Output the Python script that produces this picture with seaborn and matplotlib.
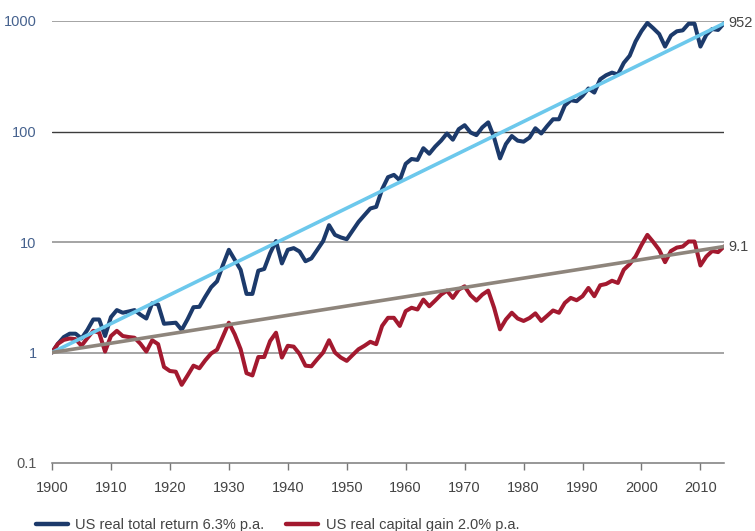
import numpy as np
import pandas as pd
import matplotlib.pyplot as plt
import seaborn as sns
from matplotlib.lines import Line2D

# data (index, 1900 = 1)
years = list(range(1900, 2015))

total_return = [
    1.0, 1.2, 1.38, 1.48, 1.48, 1.34, 1.6, 1.99, 1.99, 1.41,
    2.09, 2.42, 2.29, 2.35, 2.42, 2.2, 2.03, 2.79, 2.72, 1.82,
    1.84, 1.86, 1.6, 2.0, 2.57, 2.59, 3.2, 3.9, 4.41, 6.2,
    8.5, 6.9, 5.6, 3.39, 3.39, 5.5, 5.7, 7.9, 10.2, 6.4,
    8.5, 8.8, 8.2, 6.7, 7.1, 8.5, 10.2, 14.2, 11.6, 11.0,
    10.6, 12.7, 15.2, 17.5, 20.1, 20.8, 30.0, 38.6, 40.5, 36.2,
    51.0, 56.4, 55.3, 70.6, 62.9, 73.0, 82.6, 96.0, 84.3, 105.0,
    114.0, 98.0, 92.7, 109.0, 121.0, 88.0, 57.1, 77.0, 91.0, 82.6,
    80.9, 88.0, 107.0, 96.0, 112.0, 129.0, 129.0, 172.0, 192.0, 188.0,
    210.0, 245.0, 225.0, 297.0, 323.0, 341.0, 328.0, 418.0, 485.0, 653.0,
    810.0, 960.0, 860.0, 763.0, 587.0, 738.0, 807.0, 823.0, 945.0, 945.0,
    587.0, 750.0, 846.0, 830.0, 952.0,
]

capital_gain = [
    1.0, 1.2, 1.3, 1.34, 1.32, 1.15, 1.35, 1.57, 1.51, 1.02,
    1.41, 1.57, 1.41, 1.38, 1.36, 1.2, 1.02, 1.29, 1.19, 0.74,
    0.68, 0.67, 0.51, 0.62, 0.76, 0.72, 0.85, 0.98, 1.06, 1.4,
    1.86, 1.46, 1.07, 0.65, 0.62, 0.91, 0.91, 1.27, 1.51, 0.9,
    1.15, 1.13, 0.97, 0.76, 0.75, 0.87, 1.0, 1.29, 1.0, 0.9,
    0.84, 0.95, 1.07, 1.15, 1.25, 1.19, 1.74, 2.06, 2.06, 1.74,
    2.37, 2.54, 2.45, 3.01, 2.62, 2.95, 3.34, 3.63, 3.12, 3.71,
    3.97, 3.3, 2.95, 3.34, 3.63, 2.54, 1.62, 1.99, 2.29, 2.03,
    1.93, 2.05, 2.26, 1.93, 2.15, 2.4, 2.29, 2.81, 3.12, 2.97,
    3.23, 3.84, 3.23, 4.06, 4.17, 4.46, 4.26, 5.61, 6.31, 7.39,
    9.39, 11.6, 10.0, 8.5, 6.57, 8.29, 8.9, 9.1, 10.1, 10.1,
    6.13, 7.39, 8.29, 8.1, 9.1,
]

trend_years = [1900, 2014]
total_trend = [1.0, 952.0]
capital_trend = [1.0, 9.1]

series_names = ["US real total return 6.3% p.a.", "US real capital gain 2.0% p.a."]
end_labels = ["952", "9.1"]

navy = "#1c3a6b"
crimson = "#a3192f"
light_blue = "#6cc8ec"
taupe = "#8e857c"

df = pd.DataFrame({"year": years,
                   series_names[0]: total_return,
                   series_names[1]: capital_gain})
long_df = df.melt(id_vars="year", var_name="series", value_name="index")

sns.set_style("white")
plt.rcParams['font.family'] = ['Liberation Sans', 'DejaVu Sans']

fig = plt.figure(figsize=(7.55, 5.31), dpi=100)
ax = fig.add_axes([52 / 755, 1 - 463 / 531, (724 - 52) / 755, (463 - 21) / 531])

sns.lineplot(data=long_df, x="year", y="index", hue="series",
             palette=[navy, crimson], linewidth=2.9, ax=ax, legend=False,
             zorder=3)
sns.lineplot(x=trend_years, y=total_trend, color=light_blue, linewidth=2.6,
             ax=ax, zorder=4)
sns.lineplot(x=trend_years, y=capital_trend, color=taupe, linewidth=2.6,
             ax=ax, zorder=4)

ax.set_yscale("log")
ax.set_ylim(0.1, 1000)
ax.set_xlim(1900, 2014)

# horizontal gridlines (the 100 line is darker in the original)
for v in [1, 10, 1000]:
    ax.axhline(v, color="#8c8c8c", linewidth=1.1, zorder=1)
ax.axhline(100, color="#3c3c3c", linewidth=1.0, zorder=1)

ax.set_yticks([0.1, 1, 10, 100, 1000])
ax.set_yticklabels(["0.1", "1", "10", "100", "1000"])
ax.minorticks_off()
ax.tick_params(axis="y", length=0, pad=11, labelsize=10.5)
for lab in ax.get_yticklabels():
    lab.set_color("#555555" if lab.get_text() == "0.1" else "#46628e")

ax.set_xticks(list(range(1900, 2011, 10)))
ax.tick_params(axis="x", direction="out", length=5, width=1, color="#777777",
               labelsize=10.5, labelcolor="#444444", pad=8, bottom=True)

for s in ["left", "right", "top"]:
    ax.spines[s].set_visible(False)
ax.spines["bottom"].set_color("#7a7a7a")
ax.spines["bottom"].set_linewidth(1.1)

ax.set_xlabel("")
ax.set_ylabel("")

# end labels
ax.annotate(end_labels[0], xy=(trend_years[-1], total_trend[-1]), xytext=(3, 0),
            textcoords="offset points", va="center", ha="left",
            fontsize=10.5, color="#444444", annotation_clip=False)
ax.annotate(end_labels[1], xy=(trend_years[-1], capital_trend[-1]), xytext=(3, 0),
            textcoords="offset points", va="center", ha="left",
            fontsize=10.5, color="#444444", annotation_clip=False)

handles = [Line2D([], [], color=navy, linewidth=3.2),
           Line2D([], [], color=crimson, linewidth=3.2)]
fig.legend(handles, series_names, loc="center left", bbox_to_anchor=(0.03, 0.012),
           ncol=2, frameon=False, fontsize=10.5, handlelength=2.2,
           handletextpad=0.5, columnspacing=1.5, labelcolor="#444444")

plt.savefig("out.png", dpi=100)
